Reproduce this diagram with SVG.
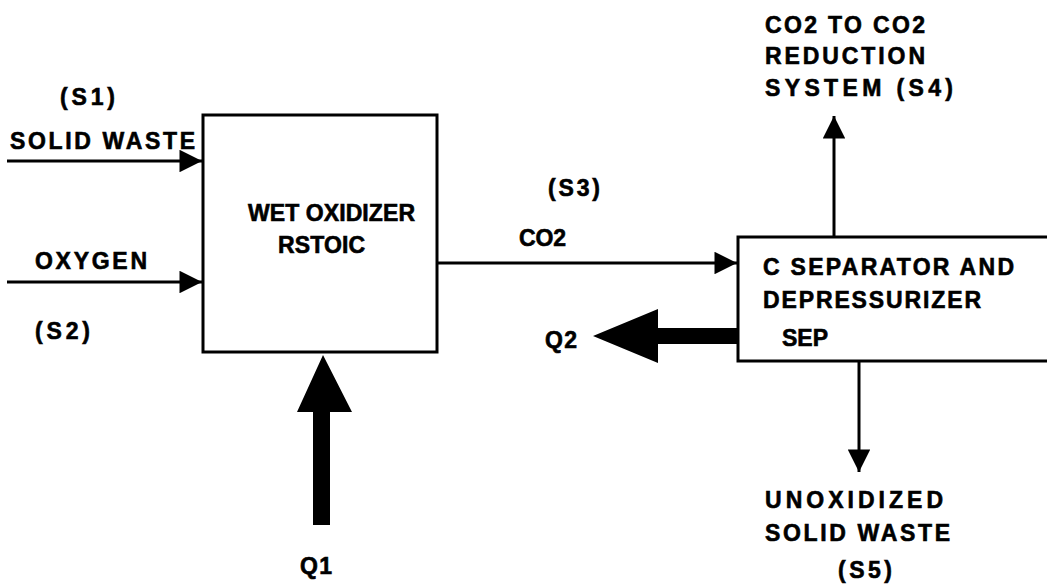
<svg xmlns="http://www.w3.org/2000/svg" width="1047" height="585" viewBox="0 0 1047 585">
<style>
text{font-family:"Liberation Sans",Arial,sans-serif;font-weight:bold;font-size:23px;fill:#000;stroke:#000;stroke-width:0.6}
.ln{stroke:#000;stroke-width:3;fill:none}
.box{stroke:#000;stroke-width:3;fill:#fff}
</style>
<defs>
<marker id="ah" viewBox="0 0 10 10" refX="10" refY="5" markerWidth="8.5" markerHeight="7.5" markerUnits="strokeWidth" orient="auto">
<path d="M0,0 L10,5 L0,10 Z" fill="#000"/>
</marker>
</defs>
<rect width="1047" height="585" fill="#fff"/>
<g id="connectors">
<line class="ln" x1="7" y1="161" x2="202" y2="161" marker-end="url(#ah)"/>
<line class="ln" x1="7" y1="282" x2="202" y2="282" marker-end="url(#ah)"/>
<line class="ln" x1="437" y1="263" x2="737" y2="263" marker-end="url(#ah)"/>
<line class="ln" x1="834" y1="237" x2="834" y2="116" marker-end="url(#ah)"/>
<line class="ln" x1="859" y1="361" x2="859" y2="472" marker-end="url(#ah)"/>
<path d="M313,525 L313,412 L297,412 L323,355 L352,412 L330,412 L330,525 Z" fill="#000"/>
<path d="M738,328 L658,328 L658,309 L593,336 L658,363 L658,344 L738,344 Z" fill="#000"/>
</g>
<g id="wet-oxidizer">
<rect class="box" x="203" y="115" width="234" height="237"/>
<text x="248" y="221" textLength="167" lengthAdjust="spacing">WET OXIDIZER</text>
<text x="278" y="253" textLength="87" lengthAdjust="spacing">RSTOIC</text>
</g>
<g id="separator">
<rect class="box" x="738" y="237" width="320" height="124"/>
<text x="763" y="275" textLength="251" lengthAdjust="spacing">C SEPARATOR AND</text>
<text x="763" y="308" textLength="218" lengthAdjust="spacing">DEPRESSURIZER</text>
<text x="782" y="346" textLength="46" lengthAdjust="spacing">SEP</text>
</g>
<g id="labels">
<text x="60" y="105" textLength="55" lengthAdjust="spacing">(S1)</text>
<text x="10" y="149" textLength="185" lengthAdjust="spacing">SOLID WASTE</text>
<text x="35" y="269" textLength="112" lengthAdjust="spacing">OXYGEN</text>
<text x="35" y="339" textLength="55" lengthAdjust="spacing">(S2)</text>
<text x="548" y="196" textLength="52" lengthAdjust="spacing">(S3)</text>
<text x="519" y="246" textLength="47" lengthAdjust="spacing">CO2</text>
<text x="545" y="348" textLength="32" lengthAdjust="spacing">Q2</text>
<text x="300" y="574" textLength="32" lengthAdjust="spacing">Q1</text>
<text x="765" y="33" textLength="160" lengthAdjust="spacing">CO2 TO CO2</text>
<text x="765" y="64" textLength="160" lengthAdjust="spacing">REDUCTION</text>
<text x="765" y="96" textLength="188" lengthAdjust="spacing">SYSTEM (S4)</text>
<text x="765" y="508" textLength="178" lengthAdjust="spacing">UNOXIDIZED</text>
<text x="765" y="541" textLength="185" lengthAdjust="spacing">SOLID WASTE</text>
<text x="838" y="578" textLength="54" lengthAdjust="spacing">(S5)</text>
</g>
</svg>
